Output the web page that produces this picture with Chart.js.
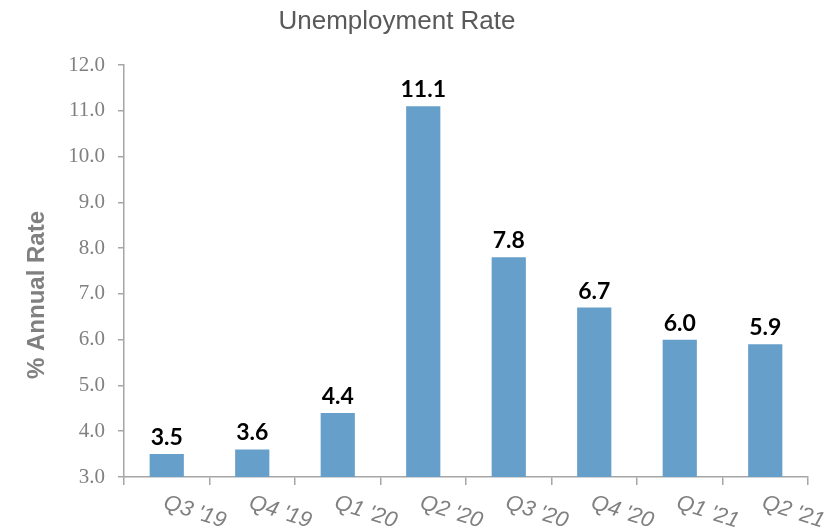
<!DOCTYPE html>
<html>
<head>
<meta charset="utf-8">
<script src="https://cdn.jsdelivr.net/npm/chart.js@4.4.1/dist/chart.umd.min.js"></script>
<style>
  html, body { margin: 0; padding: 0; background: #fff; }
  #wrap { width: 827px; height: 532px; position: relative; }
</style>
</head>
<body>
<div id="wrap"><canvas id="rateChart"></canvas></div>
<script>
// Data
const quarters = ["Q3 '19", "Q4 '19", "Q1 '20", "Q2 '20", "Q3 '20", "Q4 '20", "Q1 '21", "Q2 '21"];
const rates = [3.5, 3.6, 4.4, 11.1, 7.8, 6.7, 6.0, 5.9];
const yMin = 3;
const yMax = 12;
const chartTitle = 'Unemployment Rate';
const yTitle = '% Annual Rate';

const grey = '#808080';

// Draws the title, value labels above bars, slanted quarter labels and the y title
const extraText = {
    id: 'extraText',
    afterDatasetsDraw(chart) {
        const ctx = chart.ctx;
        const meta = chart.getDatasetMeta(0);
        const xScale = chart.scales.x;
        const area = chart.chartArea;

        ctx.save();
        // title
        ctx.fillStyle = '#595959';
        ctx.font = '26px "Liberation Sans", Arial, sans-serif';
        ctx.textAlign = 'center';
        ctx.textBaseline = 'middle';
        ctx.fillText(chartTitle, 397, 22);

        // values
        ctx.fillStyle = '#000';
        ctx.font = 'bold 23px Lato, "Liberation Sans", sans-serif';
        ctx.textBaseline = 'bottom';
        meta.data.forEach((bar, i) => {
            ctx.fillText(rates[i].toFixed(1), bar.x, bar.y - 5);
        });

        // quarter labels, rotated clockwise
        ctx.fillStyle = grey;
        ctx.font = 'italic 22px "Liberation Sans", Arial, sans-serif';
        ctx.textBaseline = 'middle';
        quarters.forEach((q, i) => {
            const x = xScale.getPixelForTick(i);
            ctx.save();
            ctx.translate(x + 28, area.bottom + 35);
            ctx.rotate(18 * Math.PI / 180);
            ctx.fillText(q, 0, 0);
            ctx.restore();
        });

        // y axis title
        ctx.font = 'bold 24px "Liberation Sans", Arial, sans-serif';
        ctx.fillStyle = grey;
        ctx.translate(37, 295);
        ctx.rotate(-Math.PI / 2);
        ctx.fillText(yTitle, 0, 0);
        ctx.restore();
    }
};

const ctx = document.getElementById('rateChart').getContext('2d');
const rateChart = new Chart(ctx, {
    type: 'bar',
    data: {
        labels: quarters,
        datasets: [{
            label: chartTitle,
            data: rates,
            backgroundColor: '#669fc9',
            borderWidth: 0,
            barPercentage: 0.4,
            categoryPercentage: 1.0
        }]
    },
    options: {
        responsive: true,
        maintainAspectRatio: false,
        animation: false,
        layout: {
            padding: { left: 0, right: 19, top: 65, bottom: 0 }
        },
        plugins: {
            legend: { display: false },
            tooltip: { enabled: false },
            title: { display: false }
        },
        scales: {
            y: {
                min: yMin,
                max: yMax,
                border: { color: '#a6a6a6', width: 1.5 },
                grid: {
                    drawOnChartArea: false,
                    color: '#a6a6a6',
                    tickLength: 6,
                    lineWidth: 1.5
                },
                ticks: {
                    stepSize: 1,
                    color: grey,
                    padding: 13,
                    font: { family: '"Liberation Serif", "Times New Roman", serif', size: 21 },
                    callback: v => v.toFixed(1)
                },
                afterFit(scale) { scale.width = 124; }
            },
            x: {
                border: { color: '#a6a6a6', width: 1.5 },
                grid: {
                    drawOnChartArea: false,
                    color: '#a6a6a6',
                    tickLength: 8,
                    lineWidth: 1.5,
                    offset: true
                },
                ticks: { display: false },
                afterFit(scale) { scale.height = 55; }
            }
        }
    },
    plugins: [extraText]
});
</script>
</body>
</html>
